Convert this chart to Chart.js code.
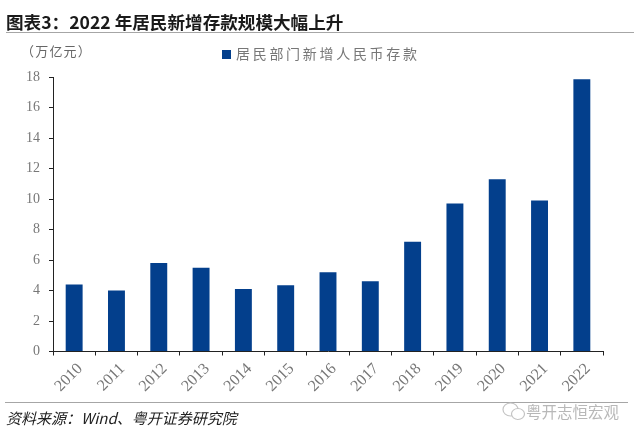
<!DOCTYPE html>
<html>
<head>
<meta charset="utf-8">
<script src="https://cdn.jsdelivr.net/npm/chart.js@4"></script>
<style>
    html, body { margin: 0; padding: 0; background: #fff; }
    #marco { position: relative; width: 640px; height: 439px; overflow: hidden; }
    #grafico { position: absolute; left: 0; top: 0; }
    .texto { position: absolute; white-space: nowrap; line-height: 20px; }
    #titulo { left: 6px; top: 12px; font-family: "Noto Sans CJK SC", sans-serif; font-weight: bold; font-size: 17.6px; color: #1a1a1a; }
    #unidad { left: 21px; top: 41px; font-family: "Noto Sans CJK SC", sans-serif; font-size: 13px; color: #666; letter-spacing: 1.2px; }
    #leyenda { left: 222px; top: 43px; font-family: "Noto Sans CJK SC", sans-serif; font-size: 14px; color: #777; letter-spacing: 2.7px; }
    #leyenda span { display: inline-block; width: 9px; height: 9px; margin-right: 5px; }
    #fuente { left: 6px; top: 408px; font-family: "Noto Sans CJK SC", sans-serif; font-style: italic; font-size: 15px; color: #222; }
    #marca { left: 526px; top: 401px; font-family: "Noto Sans CJK SC", sans-serif; font-size: 15.5px; color: #b8b8b8; }
    #icono { position: absolute; left: 501px; top: 401px; }
    .linea { position: absolute; background: #a6a6a6; }
</style>
</head>
<body>
<div id="marco">
    <canvas id="grafico" width="640" height="439"></canvas>
    <div class="texto" id="titulo">图表3：2022 年居民新增存款规模大幅上升</div>
    <div class="linea" style="left:6px; top:32px; width:628px; height:1px;"></div>
    <div class="texto" id="unidad">（万亿元）</div>
    <div class="texto" id="leyenda"></div>
    <div class="linea" style="left:5px; top:402px; width:623px; height:1px;"></div>
    <div class="texto" id="fuente">资料来源：Wind、粤开证券研究院</div>
    <svg id="icono" width="26" height="22" fill="none" stroke="#c4c4c4" stroke-width="1.2">
        <ellipse cx="9.5" cy="8.5" rx="7.5" ry="6.5"/>
        <ellipse cx="17" cy="13" rx="6.5" ry="5.5" fill="#fff"/>
    </svg>
    <div class="texto" id="marca">粤开志恒宏观</div>
</div>
<script>
const anios = ['2010', '2011', '2012', '2013', '2014', '2015', '2016', '2017', '2018', '2019', '2020', '2021', '2022'];
const depositos = [4.4, 4.0, 5.8, 5.5, 4.1, 4.35, 5.2, 4.6, 7.2, 9.7, 11.3, 9.9, 17.85];
const nombreSerie = '居民部门新增人民币存款';
const colorBarra = '#033f8c';
const colorEje = '#222222';
const colorEtiqueta = '#777777';

// La leyenda va fuera del flujo del gráfico, en la posición exacta de la referencia
document.getElementById('leyenda').innerHTML =
    '<span style="background:' + colorBarra + '"></span>' + nombreSerie;

new Chart(document.getElementById('grafico'), {
    type: 'bar',
    data: {
        labels: anios,
        datasets: [{
            label: nombreSerie,
            data: depositos,
            backgroundColor: colorBarra,
            categoryPercentage: 1,
            barPercentage: 0.4
        }]
    },
    options: {
        responsive: false,
        animation: false,
        layout: { padding: { left: 0, right: 37, top: 77, bottom: 0 } },
        plugins: {
            tooltip: { enabled: false },
            legend: { display: false }
        },
        scales: {
            x: {
                offset: true,
                grid: { offset: true, drawOnChartArea: false, color: colorEje, tickLength: 4 },
                border: { color: colorEje, width: 1 },
                ticks: {
                    maxRotation: 45,
                    minRotation: 45,
                    autoSkip: false,
                    labelOffset: 6,
                    padding: 4,
                    color: colorEtiqueta,
                    font: { family: '"Liberation Serif"', size: 16 }
                },
                afterFit(escala) { escala.height = 87.5; }
            },
            y: {
                min: 0,
                max: 18,
                grid: { drawOnChartArea: false, color: colorEje, tickLength: 4 },
                border: { color: colorEje, width: 1 },
                ticks: {
                    stepSize: 2,
                    color: colorEtiqueta,
                    padding: 9,
                    font: { family: '"Liberation Serif"', size: 14 }
                },
                afterFit(escala) { escala.width = 53; }
            }
        }
    }
});
</script>
</body>
</html>
